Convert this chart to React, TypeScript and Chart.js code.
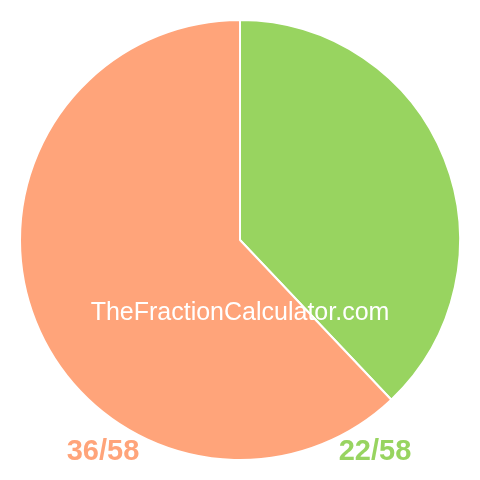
import { useEffect, useRef } from "react"
import Chart from "chart.js/auto"

const labels = ["22/58", "36/58"]
const values = [22, 36]
const colors = ["#98d460", "#ffa47a"]
const watermark = "TheFractionCalculator.com"

const textPlugin = {
  id: "fractionText",
  afterDraw(chart: Chart) {
    const ctx = chart.ctx
    ctx.save()
    ctx.textAlign = "center"
    ctx.textBaseline = "alphabetic"
    ctx.fillStyle = "#ffffff"
    ctx.font = "25px 'Liberation Sans', Arial, sans-serif"
    ctx.fillText(watermark, 240, 320)

    ctx.font = "bold 29px 'Liberation Sans', Arial, sans-serif"
    ctx.fillStyle = colors[1]
    ctx.fillText(labels[1], 103, 460)
    ctx.fillStyle = colors[0]
    ctx.fillText(labels[0], 375, 460)
    ctx.restore()
  },
}

export default function App() {
  const chartRef = useRef<HTMLCanvasElement>(null)
  const chartInstance = useRef<Chart | null>(null)

  useEffect(() => {
    document.body.style.margin = "0"
    if (chartRef.current) {
      const ctx = chartRef.current.getContext("2d")
      if (ctx) {
        if (chartInstance.current) {
          chartInstance.current.destroy()
        }
        chartInstance.current = new Chart(ctx, {
          type: "pie",
          data: {
            labels: labels,
            datasets: [
              {
                data: values,
                backgroundColor: colors,
                borderColor: "#ffffff",
                borderWidth: 2,
              },
            ],
          },
          options: {
            responsive: false,
            animation: false,
            layout: { padding: 19 },
            plugins: {
              legend: { display: false },
              tooltip: { enabled: false },
            },
          },
          plugins: [textPlugin],
        })
      }
    }

    return () => {
      if (chartInstance.current) {
        chartInstance.current.destroy()
        chartInstance.current = null
      }
    }
  }, [])

  return (
    <div style={{ width: 480, height: 480 }}>
      <canvas ref={chartRef} width={480} height={480} />
    </div>
  )
}
